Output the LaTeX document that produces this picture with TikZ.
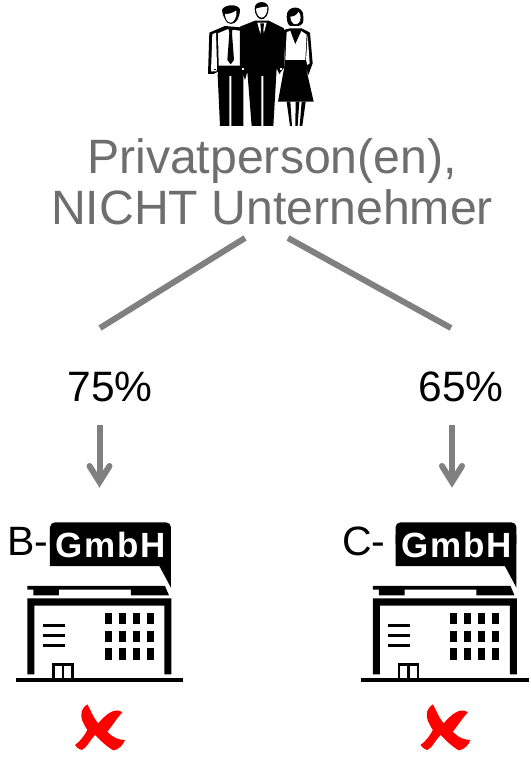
\documentclass[tikz,border=0pt]{standalone}
\usepackage{fontspec}
\setmainfont{Liberation Sans}
\definecolor{txtgray}{HTML}{6E6E6E}
\definecolor{linegray}{HTML}{808080}
\tikzset{
  bigtext/.style={font=\fontsize{48.2}{51}\selectfont,text=txtgray,align=center,inner sep=0pt},
  pct/.style={font=\fontsize{42.5}{46}\selectfont,text=black,inner sep=0pt},
  firm/.style={font=\fontsize{41}{44}\selectfont,text=black,inner sep=0pt,anchor=base west},
  gmbh/.style={font=\fontsize{35}{38}\selectfont\bfseries\addfontfeatures{LetterSpace=5},text=white,inner sep=0pt},
  branch/.style={draw=linegray,line width=6pt},
  shaft/.style={draw=linegray,line width=6pt},
  barbs/.style={draw=linegray,line width=6pt,line cap=round,line join=miter},
}
\newcommand{\building}[1]{%
\begin{scope}[shift={(#1,515)},x=0.3333pt,y=-0.3333pt]
  \fill[black,rounded corners=5pt] (150,22) -- (513,22) -- (513,100) -- (150,100) -- cycle;
  \fill[black] (150,60) -- (513,60) -- (513,218) -- (478,153) -- (150,153) -- cycle;
  \fill[black] (82,213) -- (495,213) -- (507,241) -- (393,241) -- (393,224) -- (177,224) -- (177,241) -- (100,241) -- (100,224) -- (82,224) -- cycle;
  \fill[black] (82,250) -- (514,250) -- (514,478) -- (493,478) -- (493,272) -- (103,272) -- (103,478) -- (82,478) -- cycle;
  \fill[black] (47,490) rectangle (550,500);
  \draw[black,line width=2.4pt] (160,490) -- (160,449) -- (217,449) -- (217,490);
  \draw[black,line width=2.2pt] (189,449) -- (189,490);
  \fill[black] (128,326) rectangle (194,336);
  \fill[black] (128,357) rectangle (194,367);
  \fill[black] (128,386) rectangle (194,396);
  \foreach \cx in {314,356,399,441} \foreach \cy/\ch in {295/33,348/33,400/34}
    \fill[black] (\cx,\cy) rectangle ++(21,\ch);
  \fill[red] (262,568) .. controls (270,580) and (280,610) .. (295,625)
    .. controls (315,600) and (345,575) .. (367,592)
    .. controls (350,610) and (335,635) .. (322,650)
    .. controls (340,670) and (360,675) .. (375,675)
    .. controls (370,690) and (355,705) .. (340,706)
    .. controls (320,695) and (300,675) .. (285,660)
    .. controls (270,675) and (260,700) .. (245,705)
    .. controls (235,702) and (228,695) .. (225,690)
    .. controls (240,680) and (255,660) .. (262,645)
    .. controls (250,625) and (240,610) .. (245,590)
    .. controls (250,578) and (255,572) .. (262,568) -- cycle;
\end{scope}}
\begin{document}
\begin{tikzpicture}[x=1pt,y=-1pt]
\useasboundingbox (0,0) rectangle (530,759);
% people
\begin{scope}[shift={(190,0)},x=0.3333pt,y=-0.3333pt]
  % left man
  \fill[black] (58,98) -- (105,78) -- (150,82) -- (150,198) -- (160,198) -- (160,378) -- (124,378) -- (124,228) -- (118,228) -- (118,378) -- (90,378) -- (83,225) -- (85,215) -- (70,222) -- (54,222) -- cycle;
  \fill[white] (84,100) -- (112,88) -- (150,92) -- (150,197) -- (86,197) -- cycle;
  \fill[white] (67,103) -- (78,98) -- (81,197) -- (80,214) -- (63,214) -- cycle;
  \fill[black] (72,206) rectangle ++(5,5);
  \fill[black] (116,82) -- (128,82) -- (126,100) -- (132,180) -- (122,193) -- (112,180) -- (118,100) -- cycle;
  \fill[black] (96,30) .. controls (100,15) and (140,8) .. (150,28) .. controls (150,42) and (146,52) .. (142,60) .. controls (132,76) and (112,76) .. (105,58) .. controls (100,48) and (96,40) .. (96,30) -- cycle;
  \fill[white] (105,42) .. controls (120,42) and (130,38) .. (139,32) .. controls (142,50) and (132,68) .. (122,68) .. controls (112,68) and (105,55) .. (105,42) -- cycle;
  % right woman
  \fill[black] (280,90) -- (300,85) -- (335,85) -- (360,98) -- (368,190) -- (355,225) -- (346,195) -- (371,305) -- (264,305) -- (285,190) -- cycle;
  \fill[white] (290,96) -- (303,92) -- (316,125) -- (332,92) -- (350,104) -- (346,180) -- (286,180) -- cycle;
  \fill[white] (353,105) -- (359,190) -- (352,195) -- (348,180) -- cycle;
  \draw[black,line width=1.3pt] (303,92) -- (316,127) -- (332,92);
  \fill[black] (290,305) -- (301,305) -- (306,378) -- (300,378) -- cycle;
  \fill[black] (317,305) -- (328,305) -- (323,378) -- (316,378) -- cycle;
  \fill[black] (335,305) -- (347,305) -- (337,378) -- (329,378) -- cycle;
  \fill[black] (290,50) .. controls (288,15) and (342,12) .. (340,50) .. controls (342,68) and (338,75) .. (325,78) -- (300,78) .. controls (292,72) and (290,60) .. (290,50) -- cycle;
  \fill[white] (301,50) .. controls (315,50) and (322,42) .. (326,36) .. controls (334,45) and (333,60) .. (327,68) .. controls (318,78) and (303,74) .. (301,50) -- cycle;
  % middle man
  \fill[black] (150,80) -- (195,62) -- (236,62) -- (282,85) -- (284,200) -- (268,222) -- (260,205) -- (250,378) -- (220,378) -- (220,228) -- (214,228) -- (214,378) -- (185,378) -- (172,215) -- (165,240) -- (150,200) -- cycle;
  \fill[white] (202,68) -- (230,68) -- (216,120) -- cycle;
  \fill[black] (211,70) -- (222,70) -- (220,90) -- (224,118) -- (216,128) -- (208,118) -- (213,90) -- cycle;
  \fill[white] (156,205) rectangle ++(5,5);
  \fill[white] (270,205) rectangle ++(5,5);
  \fill[black] (194,25) .. controls (194,0) and (236,0) .. (236,25) .. controls (236,45) and (225,58) .. (215,58) .. controls (205,58) and (194,45) .. (194,25) -- cycle;
  \fill[white] (198,26) .. controls (210,22) and (222,20) .. (232,20) .. controls (234,38) and (224,53) .. (215,53) .. controls (206,53) and (198,40) .. (198,26) -- cycle;
\end{scope}
% text
\node[bigtext] (title) at (272,182) {Privatperson(en),\\NICHT Unternehmer};
\coordinate (la) at (245,238); \coordinate (lb) at (100,328);
\coordinate (ra) at (288,238); \coordinate (rb) at (451,328);
\draw[branch] (la) -- (lb);
\draw[branch] (ra) -- (rb);
\node[pct] (p1) at (110,386.5) {75\%};
\node[pct] (p2) at (461,386.5) {65\%};
\coordinate (a1s) at (99.5,425); \coordinate (a1e) at (99.5,480);
\coordinate (a2s) at (452,425); \coordinate (a2e) at (452,480);
\draw[shaft] (a1s) -- (a1e);
\draw[shaft] (a2s) -- (a2e);
\draw[barbs] ([shift={(-10,-14)}]a1e) -- ([shift={(0,2)}]a1e) -- ([shift={(10,-14)}]a1e);
\draw[barbs] ([shift={(-10,-14)}]a2e) -- ([shift={(0,2)}]a2e) -- ([shift={(10,-14)}]a2e);
\building{0}
\building{345.5}
\node[gmbh] (g1) at (111,545) {GmbH};
\node[gmbh] (g2) at (457,545) {GmbH};
\node[firm] (b) at (7,555) {B-};
\node[firm] (c) at (342,555) {C-};
\end{tikzpicture}
\end{document}
